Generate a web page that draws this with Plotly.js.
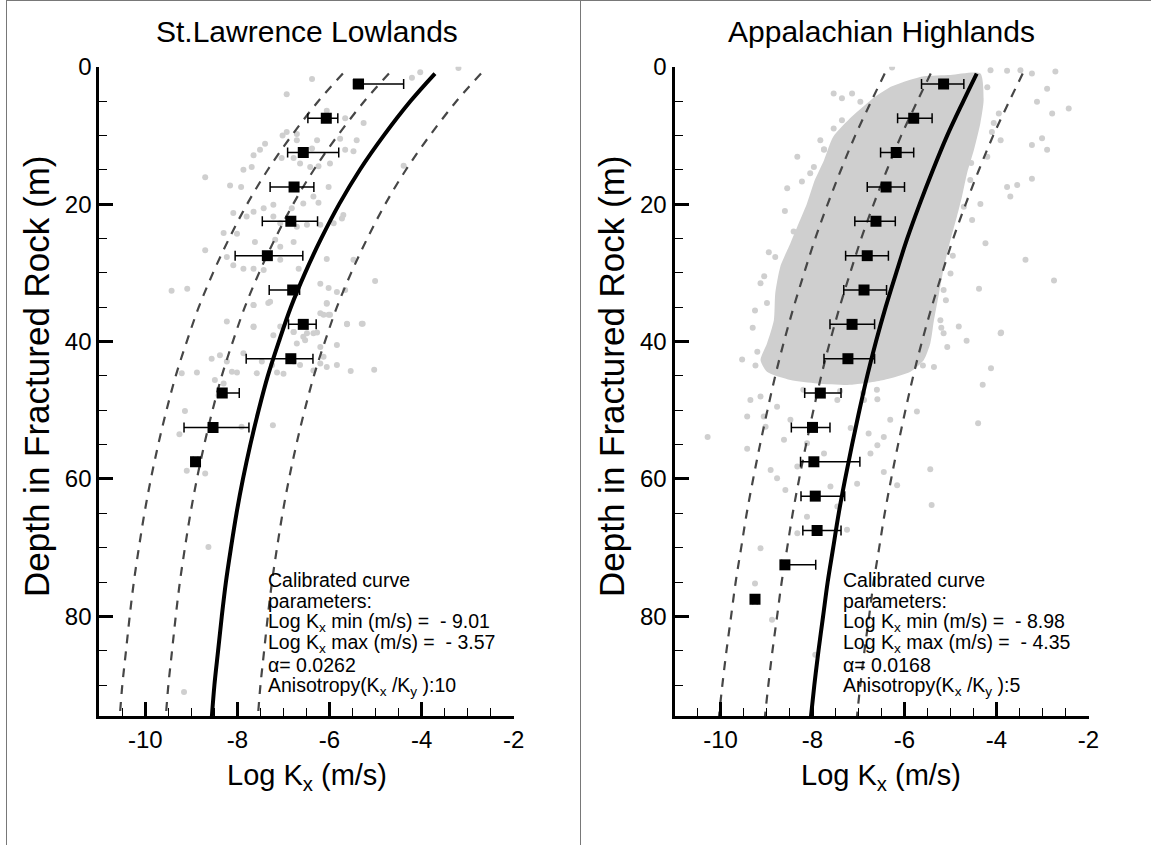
<!DOCTYPE html>
<html><head><meta charset="utf-8">
<script src="https://cdn.plot.ly/plotly-3.0.1.min.js"></script>
<style>html,body{margin:0;padding:0;background:#fff}#c{width:1151px;height:845px}</style>
</head><body><div id="c"></div>
<script>
// ---------------- DATA ----------------
const curveDepth = [1,5,10,15,20,25,30,35,40,45,50,55,60,65,70,75,80,85,90,95];

// St. Lawrence Lowlands: calibrated curve and dashed envelope curves
const slSolid  = [-3.71,-4.24,-4.82,-5.34,-5.79,-6.18,-6.53,-6.84,-7.10,-7.34,-7.54,-7.72,-7.88,-8.02,-8.14,-8.25,-8.34,-8.42,-8.50,-8.56];
const slDashA  = [-5.71,-6.24,-6.82,-7.34,-7.79,-8.18,-8.53,-8.84,-9.10,-9.34,-9.54,-9.72,-9.88,-10.02,-10.14,-10.25,-10.34,-10.42,-10.50,-10.56];
const slDashB  = [-4.71,-5.24,-5.82,-6.34,-6.79,-7.18,-7.53,-7.84,-8.10,-8.34,-8.54,-8.72,-8.88,-9.02,-9.14,-9.25,-9.34,-9.42,-9.50,-9.56];
const slDashC  = [-2.71,-3.24,-3.82,-4.34,-4.79,-5.18,-5.53,-5.84,-6.10,-6.34,-6.54,-6.72,-6.88,-7.02,-7.14,-7.25,-7.34,-7.42,-7.50,-7.56];

// Appalachian Highlands
const ahSolid  = [-4.43,-4.72,-5.07,-5.38,-5.67,-5.94,-6.18,-6.41,-6.62,-6.81,-6.98,-7.14,-7.29,-7.43,-7.55,-7.67,-7.77,-7.87,-7.96,-8.04];
const ahDashA  = [-6.43,-6.72,-7.07,-7.38,-7.67,-7.94,-8.18,-8.41,-8.62,-8.81,-8.98,-9.14,-9.29,-9.43,-9.55,-9.67,-9.77,-9.87,-9.96,-10.04];
const ahDashB  = [-5.43,-5.72,-6.07,-6.38,-6.67,-6.94,-7.18,-7.41,-7.62,-7.81,-7.98,-8.14,-8.29,-8.43,-8.55,-8.67,-8.77,-8.87,-8.96,-9.04];
const ahDashC  = [-3.43,-3.72,-4.07,-4.38,-4.67,-4.94,-5.18,-5.41,-5.62,-5.81,-5.98,-6.14,-6.29,-6.43,-6.55,-6.67,-6.77,-6.87,-6.96,-7.04];

// Binned means with error bars
const slBinDepth = [2.5,7.5,12.5,17.5,22.5,27.5,32.5,37.5,42.5,47.5,52.5,57.5];
const slBinMean  = [-5.37,-6.07,-6.57,-6.77,-6.84,-7.35,-6.80,-6.57,-6.84,-8.33,-8.53,-8.91];
const slBinLow   = [-5.48,-6.47,-6.91,-7.29,-7.46,-8.05,-7.31,-6.89,-7.81,-8.43,-9.16,-8.96];
const slBinHigh  = [-4.39,-5.82,-5.80,-6.34,-6.26,-6.58,-6.65,-6.29,-6.36,-7.96,-7.75,-8.86];

const ahBinDepth = [2.5,7.5,12.5,17.5,22.5,27.5,32.5,37.5,42.5,47.5,52.5,57.5,62.5,67.5,72.5,77.5];
const ahBinMean  = [-5.15,-5.80,-6.18,-6.40,-6.62,-6.81,-6.88,-7.14,-7.23,-7.83,-8.00,-7.97,-7.94,-7.90,-8.60,-9.25];
const ahBinLow   = [-5.63,-6.15,-6.52,-6.81,-7.08,-7.28,-7.32,-7.62,-7.75,-8.17,-8.46,-8.26,-8.25,-8.21,-8.67,-9.30];
const ahBinHigh  = [-4.71,-5.40,-5.80,-6.00,-6.20,-6.35,-6.39,-6.65,-6.65,-7.38,-7.62,-6.97,-7.30,-7.38,-7.93,-9.20];

// Individual measurements (grey dots), St. Lawrence Lowlands
const slPtK = [-3.20,-4.03,-4.21,-6.38,-6.93,-6.06,-5.26,-5.66,-6.93,-6.71,-7.02,-6.71,-6.27,-5.77,-5.41,-7.40,-7.65,-7.51,-7.04,-6.78,
  -6.38,-5.66,-5.48,-5.99,-6.42,-6.64,-6.24,-7.87,-7.69,-8.70,-8.16,-7.92,-6.02,-4.39,-6.35,-6.24,-7.22,-6.57,-6.82,-8.09,
  -7.80,-7.65,-7.43,-7.22,-7.07,-6.71,-6.49,-6.20,-5.91,-5.70,-5.73,-8.30,-8.01,-7.62,-7.18,-6.78,-7.07,-8.70,-8.23,-8.09,
  -7.87,-7.65,-7.43,-7.07,-6.67,-6.06,-5.48,-5.01,-9.43,-9.09,-6.20,-6.02,-5.84,-5.66,-7.65,-7.29,-6.06,-6.20,-5.99,-8.23,
  -7.65,-7.07,-6.78,-6.27,-5.62,-5.30,-6.49,-6.06,-7.65,-7.33,-7.65,-7.22,-6.78,-6.57,-6.35,-6.13,-6.02,-5.62,-5.28,-7.87,
  -8.56,-8.38,-8.23,-8.12,-8.01,-7.58,-7.47,-7.25,-7.14,-7.00,-6.78,-6.64,-6.35,-6.20,-6.13,-6.06,-5.84,-5.84,-6.20,-6.71,
  -6.53,-5.54,-5.03,-9.21,-8.88,-8.49,-8.30,-8.41,-9.14,-9.26,-7.91,-7.23,-9.10,-8.70,-8.63,-9.16];
const slPtD = [0.2,0.8,1.6,1.8,4.0,6.4,8.2,7.5,9.5,9.8,10.0,10.7,10.7,10.5,10.7,11.2,12.9,12.1,13.3,13.3,
  11.9,12.1,12.3,14.1,14.6,14.1,14.5,15.0,14.6,16.1,17.3,17.5,17.5,14.4,18.9,19.8,20.1,19.9,20.6,21.3,
  21.8,21.1,20.6,21.8,22.8,23.3,23.0,23.0,22.8,21.6,22.1,24.2,24.3,25.5,25.2,25.5,26.2,26.7,27.7,28.9,
  29.4,29.4,29.6,28.1,29.4,28.0,28.1,31.2,32.6,32.3,31.6,32.2,32.8,32.5,34.7,34.2,34.4,35.9,36.1,37.1,
  37.8,37.8,38.6,38.7,37.4,37.4,38.8,34.5,34.7,34.4,37.9,39.1,38.6,39.3,38.8,36.1,36.1,37.5,37.4,41.7,
  42.5,42.0,42.9,44.4,44.5,44.6,42.9,43.4,44.5,44.7,42.9,43.4,44.2,43.2,42.2,43.7,43.4,40.5,40.8,40.3,
  39.8,44.3,44.1,44.6,44.5,45.6,46.1,47.8,50.1,53.5,52.4,52.2,58.8,59.2,69.9,91.0];

// Appalachian Highlands: outline of the dense cloud of measurements
const ahCloudK = [-6.01,-5.58,-5.00,-4.35,-4.28,-4.35,-4.49,-4.64,-4.75,-4.86,-5.00,-5.14,-5.25,-5.36,-5.44,-5.58,-5.87,-6.45,-7.17,-7.90,
  -8.48,-8.99,-9.13,-8.99,-8.84,-8.81,-8.70,-8.48,-8.30,-8.12,-7.95,-7.75,-7.55,-7.15,-6.65,-6.30];
const ahCloudD = [2.2,1.4,1.2,1.0,4.9,8.2,12.1,15.5,18.9,21.8,25.2,29.1,33.0,36.9,40.3,42.7,44.4,45.6,46.3,46.1,
  45.6,44.4,42.7,40.3,36.9,33.0,29.1,25.7,22.8,19.9,16.5,13.6,10.2,7.3,4.4,2.9];

// Appalachian Highlands: scattered individual measurements
const ahPtK = [-6.27,-4.13,-3.77,-3.48,-3.23,-2.72,-2.90,-3.12,-2.43,-2.79,-3.01,-3.23,-2.90,-3.23,-3.55,-3.77,-3.70,-4.53,-4.24,-3.37,
  -2.75,-4.38,-7.54,-7.36,-7.14,-6.96,-7.36,-7.54,-7.83,-8.33,-8.23,-8.55,-8.41,-8.81,-9.13,-8.99,-3.91,-4.82,-3.95,-4.06,
  -3.91,-4.20,-4.57,-4.71,-5.15,-5.00,-7.97,-7.75,-9.53,-9.24,-10.28,-9.42,-8.91,-8.77,-8.59,-8.33,-7.17,-6.78,-6.59,-6.45,
  -6.45,-6.16,-5.44,-5.41,-7.25,-3.90,-4.65,-4.12,-4.30,-4.40,-5.73,-6.59,-5.36,-5.22,-5.15,-5.07,-9.13,-9.25,-8.88,-9.42,
  -9.06,-8.62,-8.12,-7.75,-7.61,-7.03,-7.46,-8.12,-8.33,-9.13,-9.35,-9.02,-8.77,-8.48,-7.46,-6.88,-6.31,-6.74,-7.94,
  -9.25,-9.05,-9.30,-9.20,-8.95,-8.60,-8.05,-7.75,-4.20,-4.10,-4.55,-4.35,-4.95,-5.10,-5.20,-5.60,-6.90,-6.60,-7.40,-8.20];
const ahPtD = [0.1,0.5,0.6,0.5,1.0,0.7,3.2,5.1,6.1,6.8,10.4,11.4,12.1,16.3,17.2,17.5,18.9,22.3,25.7,28.1,
  31.1,32.3,3.9,4.6,3.9,5.1,7.8,9.0,10.7,13.1,16.7,17.7,24.0,27.7,31.5,34.4,38.8,37.8,6.8,8.2,
  10.7,13.1,16.5,20.4,32.5,30.1,14.6,12.1,42.6,43.5,53.9,55.6,58.7,59.9,61.6,58.2,52.6,53.4,55.1,53.9,
  59.0,60.9,58.6,63.8,67.4,38.7,39.9,43.9,46.3,51.9,50.2,48.4,43.7,36.9,38.8,40.8,70.1,75.2,80.5,50.9,
  50.9,54.3,54.8,56.3,61.1,60.7,64.0,65.5,67.9,48.0,48.5,52.4,49.5,51.4,48.5,48.5,51.4,56.3,85.6,
  35.5,30.5,38.0,41.5,27.0,21.0,15.5,12.0,3.0,9.5,14.0,20.0,27.5,34.0,38.0,43.5,47.5,47.0,47.2,47.0];

// text
const titles = ['St.Lawrence Lowlands','Appalachian Highlands'];
const slParams = ['Calibrated curve','parameters:','Log K<sub>x</sub> min (m/s) =  - 9.01','Log K<sub>x</sub> max (m/s) =  - 3.57','\u03b1= 0.0262','Anisotropy(K<sub>x</sub> /K<sub>y</sub> ):10'];
const ahParams = ['Calibrated curve','parameters:','Log K<sub>x</sub> min (m/s) =  - 8.98','Log K<sub>x</sub> max (m/s) =  - 4.35','\u03b1= 0.0168','Anisotropy(K<sub>x</sub> /K<sub>y</sub> ):5'];
const xTickVals = [-10,-8,-6,-4,-2];
const yTickVals = [0,20,40,60,80];

// ---------------- LAYOUT HELPERS ----------------
const W = 1151, H = 845;
const px = v => v / W, py = v => 1 - v / H;
const FONT = 'Liberation Sans, Arial, Helvetica, sans-serif';
const grey = 'rgb(207,207,207)';
const dashCol = 'rgb(70,70,70)';

function panelTraces(xa, ya, solid, dA, dB, dC, ptK, ptD, bd, bm, bl, bh, cloudK, cloudD) {
  const t = [];
  if (cloudK) t.push({x: cloudK, y: cloudD, xaxis: xa, yaxis: ya, mode: 'lines', fill: 'toself',
    fillcolor: grey, line: {width: 0, color: grey, shape: 'spline', smoothing: 0.6}, hoverinfo: 'skip'});
  t.push({x: ptK, y: ptD, xaxis: xa, yaxis: ya, mode: 'markers', marker: {color: grey, size: 6}, hoverinfo: 'skip'});
  [dA, dB, dC].forEach(d => t.push({x: d, y: curveDepth, xaxis: xa, yaxis: ya, mode: 'lines',
    line: {color: dashCol, width: 2.2, dash: '9px,8px', shape: 'spline'}}));
  t.push({x: solid, y: curveDepth, xaxis: xa, yaxis: ya, mode: 'lines', line: {color: 'black', width: 4, shape: 'spline'}});
  t.push({x: bm, y: bd, xaxis: xa, yaxis: ya, mode: 'markers',
    marker: {symbol: 'square', size: 11, color: 'black'},
    error_x: {type: 'data', symmetric: false, array: bh.map((h, i) => h - bm[i]), arrayminus: bl.map((l, i) => bm[i] - l),
      color: 'black', thickness: 1.5, width: 5}});
  return t;
}

const traces = [
  ...panelTraces('x', 'y', slSolid, slDashA, slDashB, slDashC, slPtK, slPtD, slBinDepth, slBinMean, slBinLow, slBinHigh),
  ...panelTraces('x2', 'y2', ahSolid, ahDashA, ahDashB, ahDashC, ahPtK, ahPtD, ahBinDepth, ahBinMean, ahBinLow, ahBinHigh, ahCloudK, ahCloudD)
];

function xAxis(d0, d1, anchor) {
  return {domain: [d0, d1], anchor: anchor, range: [-11, -2], tickvals: xTickVals, ticktext: xTickVals.map(String),
    ticks: 'inside', ticklen: 14, tickwidth: 3, tickcolor: 'black', showline: true, linewidth: 3, linecolor: 'black',
    showgrid: false, zeroline: false, tickfont: {family: FONT, size: 24, color: 'black'},
    minor: {dtick: 0.5, tick0: -11, ticks: 'inside', ticklen: 8, tickwidth: 1, tickcolor: 'black', showgrid: false}};
}
function yAxis(anchor) {
  return {domain: [py(716), py(66.7)], anchor: anchor, range: [94.5, 0], tickvals: yTickVals,
    ticks: 'inside', ticklen: 14, tickwidth: 3, tickcolor: 'black', showline: true, linewidth: 3, linecolor: 'black',
    showgrid: false, zeroline: false, tickfont: {family: FONT, size: 24, color: 'black'},
    minor: {dtick: 5, tick0: 0, ticks: 'inside', ticklen: 8, tickwidth: 1, tickcolor: 'black', showgrid: false}};
}

const ann = [];
const panels = [{cx: 306.5, tx: 266, ytx: 36, params: slParams}, {cx: 881, tx: 841, ytx: 611, params: ahParams}];
panels.forEach((p, i) => {
  ann.push({text: titles[i], x: px(p.cx), y: py(31), xref: 'paper', yref: 'paper', showarrow: false,
    xanchor: 'center', yanchor: 'middle', font: {family: FONT, size: 30, color: 'black'}});
  ann.push({text: 'Log K<sub>x</sub> (m/s)', x: px(p.cx), y: py(777), xref: 'paper', yref: 'paper', showarrow: false,
    xanchor: 'center', yanchor: 'middle', font: {family: FONT, size: 29, color: 'black'}});
  ann.push({text: 'Depth in Fractured Rock (m)', textangle: -90, x: px(p.ytx), y: py(376), xref: 'paper', yref: 'paper',
    showarrow: false, xanchor: 'center', yanchor: 'middle', font: {family: FONT, size: 35, color: 'black'}});
  p.params.forEach((s, j) => ann.push({text: s, x: px(p.tx), y: py(580 + 21.2 * j), xref: 'paper', yref: 'paper', showarrow: false,
    xanchor: 'left', yanchor: 'middle', font: {family: FONT, size: 19.5, color: 'black'}}));
});

const layout = {
  width: W, height: H, margin: {l: 0, r: 0, t: 0, b: 0}, paper_bgcolor: 'white', plot_bgcolor: 'rgba(0,0,0,0)',
  showlegend: false, font: {family: FONT, color: 'black'},
  xaxis: xAxis(px(99.3), px(513.7), 'y'), yaxis: yAxis('x'),
  xaxis2: xAxis(px(674.5), px(1088.5), 'y2'), yaxis2: yAxis('x2'),
  annotations: ann,
  shapes: [
    {type: 'line', xref: 'paper', yref: 'paper', x0: px(6.5), x1: px(6.5), y0: 0, y1: 1, line: {color: 'rgb(120,120,120)', width: 1}},
    {type: 'line', xref: 'paper', yref: 'paper', x0: px(580.5), x1: px(580.5), y0: 0, y1: 1, line: {color: 'rgb(120,120,120)', width: 1}},
    {type: 'line', xref: 'paper', yref: 'paper', x0: px(6.5), x1: 1, y0: py(0.5), y1: py(0.5), line: {color: 'rgb(120,120,120)', width: 1}}
  ]
};
Plotly.newPlot('c', traces, layout, {displayModeBar: false, staticPlot: true});
</script></body></html>
